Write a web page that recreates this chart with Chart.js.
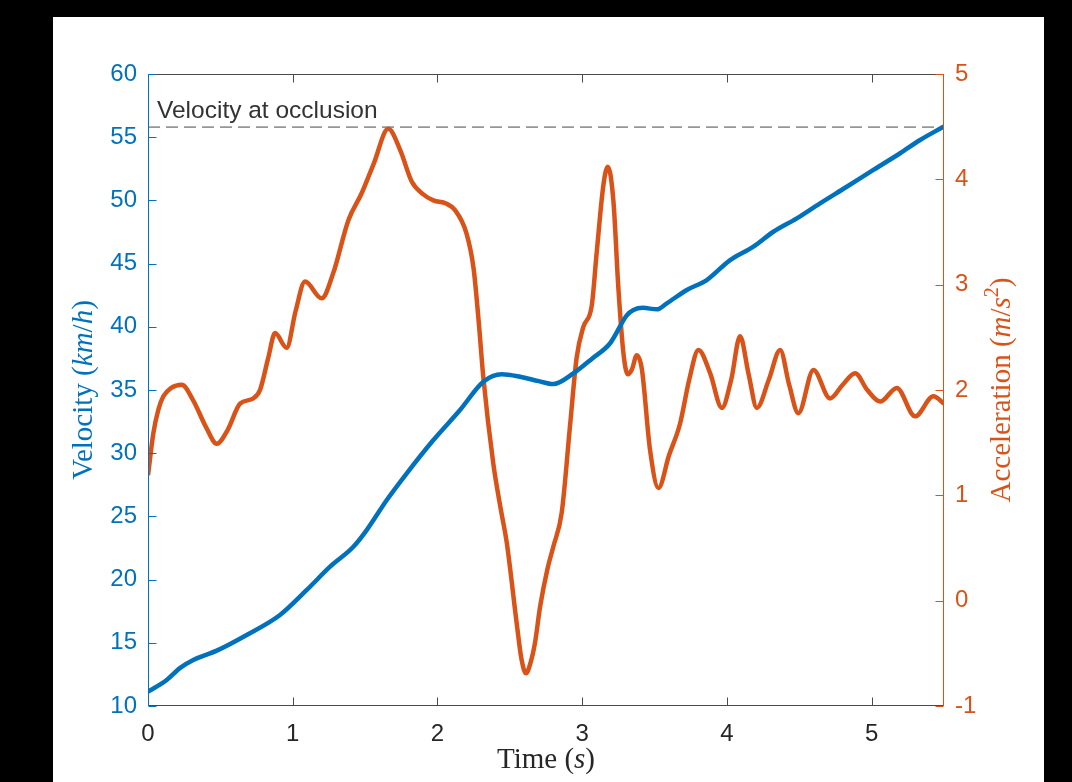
<!DOCTYPE html>
<html>
<head>
<meta charset="utf-8">
<script src="https://cdn.jsdelivr.net/npm/chart.js@4.4.1/dist/chart.umd.min.js"></script>
<style>
  html, body { margin: 0; padding: 0; background: #000; }
  #figura { position: absolute; left: 53px; top: 17px; width: 991px; height: 765px; background: #fff; }
</style>
</head>
<body>
<div id="figura"><canvas id="grafico"></canvas></div>
<script>
// Velocidade (eixo esquerdo, km/h)
const tempoVel = [0, 0.129, 0.22, 0.313, 0.475, 0.682, 0.912, 1.097, 1.258, 1.419, 1.511, 1.65, 1.788,
  1.972, 2.156, 2.317, 2.444, 2.571, 2.70, 2.80, 2.939, 3.07, 3.193, 3.308, 3.354, 3.42, 3.515, 3.585,
  3.723, 3.861, 4.022, 4.183, 4.321, 4.483, 4.644, 4.828, 5.012, 5.197, 5.335, 5.5];
const velocidade = [11.13, 12.06, 13.0, 13.64, 14.38, 15.62, 17.2, 19.18, 21.02, 22.6, 23.92, 26.3, 28.41,
  31.04, 33.42, 35.66, 36.25, 36.05, 35.7, 35.47, 36.32, 37.5, 38.7, 40.9, 41.33, 41.5, 41.38, 41.86,
  42.91, 43.7, 45.28, 46.34, 47.52, 48.58, 49.77, 51.08, 52.41, 53.73, 54.78, 55.85];

// Aceleracao (eixo direito, m/s^2)
const tempoAcc = [0, 0.037, 0.071, 0.106, 0.16, 0.233, 0.313, 0.40, 0.475, 0.55, 0.636, 0.728, 0.774,
  0.83, 0.878, 0.958, 1.02, 1.085, 1.20, 1.28, 1.384, 1.477, 1.56, 1.66, 1.742, 1.822, 1.90, 1.972,
  2.06, 2.12, 2.20, 2.25, 2.285, 2.317, 2.386, 2.44, 2.479, 2.548, 2.58, 2.612, 2.645, 2.674, 2.709,
  2.76, 2.80, 2.859, 2.916, 2.962, 3.008, 3.066, 3.10, 3.147, 3.177, 3.216, 3.25, 3.285, 3.315, 3.345,
  3.377, 3.412, 3.469, 3.527, 3.60, 3.676, 3.74, 3.803, 3.884, 3.965, 4.03, 4.091, 4.15, 4.207, 4.29,
  4.368, 4.43, 4.494, 4.598, 4.713, 4.80, 4.886, 4.97, 5.059, 5.174, 5.30, 5.427, 5.5];
const aceleracao = [1.19, 1.59, 1.81, 1.94, 2.02, 2.05, 1.90, 1.65, 1.49, 1.62, 1.87, 1.92, 2.0,
  2.30, 2.54, 2.40, 2.75, 3.03, 2.87, 3.11, 3.61, 3.87, 4.15, 4.48, 4.28, 3.98, 3.86, 3.80,
  3.77, 3.71, 3.49, 3.15, 2.65, 2.12, 1.30, 0.85, 0.55, -0.22, -0.55, -0.69, -0.58, -0.40, -0.06,
  0.30, 0.51, 0.84, 1.66, 2.31, 2.60, 2.80, 3.30, 3.95, 4.12, 3.79, 2.97, 2.35, 2.15, 2.20,
  2.33, 2.20, 1.43, 1.07, 1.38, 1.68, 2.10, 2.38, 2.16, 1.83, 2.10, 2.51, 2.15, 1.83, 2.10,
  2.38, 2.05, 1.78, 2.19, 1.92, 2.05, 2.16, 2.00, 1.89, 2.02, 1.75, 1.94, 1.87];

const velocidadeOclusao = 55.8;
const tempoTicks = [0, 1, 2, 3, 4, 5];
const velTicks = [10, 15, 20, 25, 30, 35, 40, 45, 50, 55, 60];
const accTicks = [-1, 0, 1, 2, 3, 4, 5];

const azul = '#0072BD';
const laranja = '#D95319';
const cinza = '#262626';
const fonteTicks = { family: '"Liberation Sans", Arial, sans-serif', size: 24 };
const serif = '"Liberation Serif", "Times New Roman", serif';

// desenha um rotulo com partes em italico / sobrescrito, centrado em (0,0)
function desenharRotulo(ctx, partes, tam, cor) {
  const fonte = p => (p.it ? 'italic ' : '') + (p.sup ? Math.round(tam * 0.7) : tam) + 'px ' + serif;
  let total = 0;
  partes.forEach(p => { ctx.font = fonte(p); p.w = ctx.measureText(p.t).width; total += p.w; });
  let x = -total / 2;
  ctx.fillStyle = cor;
  ctx.textBaseline = 'alphabetic';
  ctx.textAlign = 'left';
  partes.forEach(p => {
    ctx.font = fonte(p);
    ctx.fillText(p.t, x, p.sup ? -tam * 0.42 : 0);
    x += p.w;
  });
}

const eixosMatlab = {
  id: 'eixosMatlab',
  afterDatasetsDraw(chart) {
    const { ctx, chartArea: a, scales } = chart;
    const tl = 8;
    const L = Math.round(a.left) + 0.5, R = Math.round(a.right) - 0.5;
    const T = Math.round(a.top) + 0.5, B = Math.round(a.bottom) - 0.5;
    const linha = (x1, y1, x2, y2) => { ctx.beginPath(); ctx.moveTo(x1, y1); ctx.lineTo(x2, y2); ctx.stroke(); };
    ctx.save();
    ctx.lineWidth = 1;

    // topo e base
    ctx.strokeStyle = '#4a4a4a';
    linha(L, T, R, T);
    linha(L, B, R, B);
    scales.x.ticks.forEach(t => {
      const px = Math.round(scales.x.getPixelForValue(t.value)) + 0.5;
      linha(px, B, px, B - tl);
      linha(px, T, px, T + tl);
    });

    // eixo esquerdo
    ctx.strokeStyle = azul;
    linha(L, a.top, L, a.bottom);
    scales.y.ticks.forEach(t => {
      const py = Math.round(scales.y.getPixelForValue(t.value)) + 0.5;
      linha(L, py, L + tl, py);
    });

    // eixo direito
    ctx.strokeStyle = laranja;
    linha(R, a.top, R, a.bottom);
    scales.y2.ticks.forEach(t => {
      const py = Math.round(scales.y2.getPixelForValue(t.value)) + 0.5;
      linha(R, py, R - tl, py);
    });

    // texto da linha tracejada
    ctx.fillStyle = '#333';
    ctx.font = '24.5px "Liberation Sans", Arial, sans-serif';
    ctx.textAlign = 'left';
    ctx.textBaseline = 'alphabetic';
    ctx.fillText('Velocity at occlusion', a.left + 9, scales.y.getPixelForValue(velocidadeOclusao) - 9);

    // titulos dos eixos
    const tam = 29;
    ctx.save();
    ctx.translate((a.left + a.right) / 2, a.bottom + 62);
    desenharRotulo(ctx, [{ t: 'Time (' }, { t: 's', it: true }, { t: ')' }], tam, cinza);
    ctx.restore();

    ctx.save();
    ctx.translate(a.left - 56, (a.top + a.bottom) / 2);
    ctx.rotate(-Math.PI / 2);
    desenharRotulo(ctx, [{ t: 'Velocity (' }, { t: 'km', it: true }, { t: '/' }, { t: 'h', it: true }, { t: ')' }], tam, azul);
    ctx.restore();

    ctx.save();
    ctx.translate(a.right + 66, (a.top + a.bottom) / 2);
    ctx.rotate(-Math.PI / 2);
    desenharRotulo(ctx, [{ t: 'Acceleration (' }, { t: 'm', it: true }, { t: '/' }, { t: 's', it: true }, { t: '2', sup: true }, { t: ')' }], tam, laranja);
    ctx.restore();

    ctx.restore();
  }
};

new Chart(document.getElementById('grafico'), {
  type: 'line',
  data: {
    datasets: [
      {
        label: 'Velocity',
        data: tempoVel.map((t, i) => ({ x: t, y: velocidade[i] })),
        yAxisID: 'y',
        borderColor: azul,
        borderWidth: 4.5,
        pointRadius: 0,
        cubicInterpolationMode: 'monotone'
      },
      {
        label: 'Acceleration',
        data: tempoAcc.map((t, i) => ({ x: t, y: aceleracao[i] })),
        yAxisID: 'y2',
        borderColor: laranja,
        borderWidth: 4.5,
        pointRadius: 0,
        cubicInterpolationMode: 'monotone'
      },
      {
        label: 'Velocity at occlusion',
        data: [{ x: 0, y: velocidadeOclusao }, { x: 5.5, y: velocidadeOclusao }],
        yAxisID: 'y',
        borderColor: '#969696',
        borderWidth: 1.8,
        borderDash: [12, 6],
        pointRadius: 0
      }
    ]
  },
  options: {
    responsive: true,
    maintainAspectRatio: false,
    animation: false,
    events: [],
    layout: { padding: { top: 57, left: 0, right: 0, bottom: 0 } },
    plugins: { legend: { display: false }, tooltip: { enabled: false } },
    scales: {
      x: {
        type: 'linear',
        min: 0,
        max: 5.5,
        afterBuildTicks: s => { s.ticks = tempoTicks.map(v => ({ value: v })); },
        afterFit: s => { s.height = 76; },
        grid: { display: false, drawTicks: false },
        border: { display: false },
        ticks: { color: cinza, font: fonteTicks, padding: 14, maxRotation: 0, autoSkip: false }
      },
      y: {
        type: 'linear',
        position: 'left',
        min: 10,
        max: 60,
        afterBuildTicks: s => { s.ticks = velTicks.map(v => ({ value: v })); },
        afterFit: s => { s.width = 95; },
        grid: { display: false, drawTicks: false },
        border: { display: false },
        ticks: { color: azul, font: fonteTicks, padding: 11, autoSkip: false }
      },
      y2: {
        type: 'linear',
        position: 'right',
        min: -1,
        max: 5,
        afterBuildTicks: s => { s.ticks = accTicks.map(v => ({ value: v })); },
        afterFit: s => { s.width = 100; },
        grid: { display: false, drawTicks: false },
        border: { display: false },
        ticks: { color: laranja, font: fonteTicks, padding: 11, autoSkip: false }
      }
    }
  },
  plugins: [eixosMatlab]
});
</script>
</body>
</html>
